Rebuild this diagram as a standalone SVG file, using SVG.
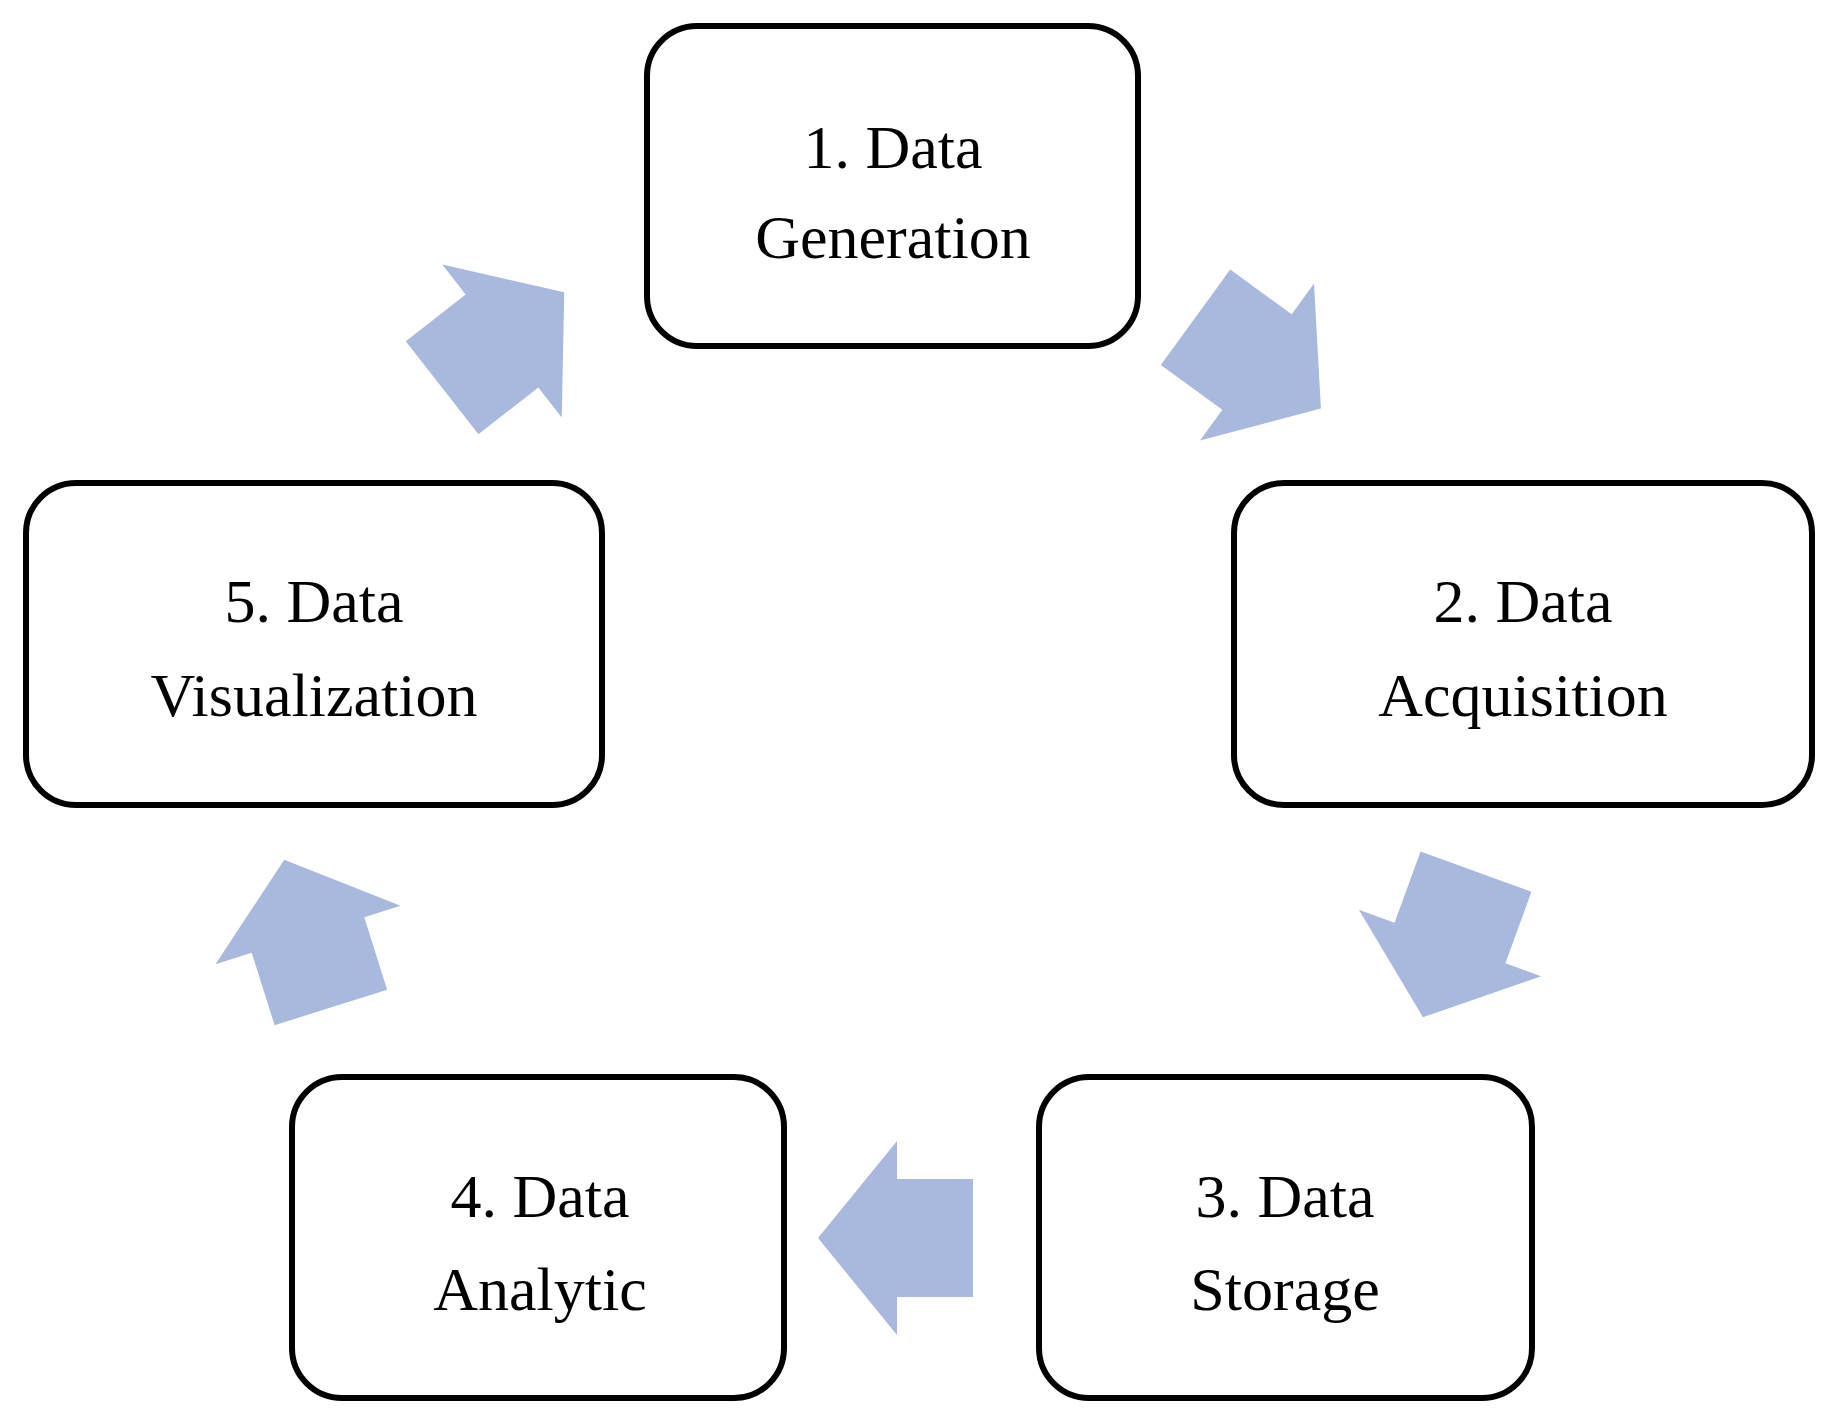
<svg xmlns="http://www.w3.org/2000/svg" width="1840" height="1426" viewBox="0 0 1840 1426">
<defs>
<style>
.box{fill:#fff;stroke:#000;stroke-width:6}
.t{font-family:"Liberation Serif",serif;font-size:62px;fill:#000;text-anchor:middle}
.arr{fill:#a9b9de}
</style>
<polygon id="arrow" points="79,0 0,-97 0,-59 -76,-59 -76,59 0,59 0,97"/>
</defs>
<rect width="1840" height="1426" fill="#fff"/>
<g id="connectors" class="arr">
<use href="#arrow" transform="translate(1257,362) rotate(36)"/>
<use href="#arrow" transform="translate(1450,943) rotate(110)"/>
<use href="#arrow" transform="translate(897,1238) rotate(180)"/>
<use href="#arrow" transform="translate(308,935) rotate(-107.5)"/>
<use href="#arrow" transform="translate(502,341) rotate(-38)"/>
</g>
<g id="n1"><rect class="box" x="647" y="26" width="491" height="320" rx="50"/><text class="t" x="893" y="168">1. Data</text><text class="t" x="893" y="258">Generation</text></g>
<g id="n2"><rect class="box" x="1234" y="483" width="578" height="322" rx="50"/><text class="t" x="1523" y="622">2. Data</text><text class="t" x="1523" y="716">Acquisition</text></g>
<g id="n3"><rect class="box" x="1039" y="1077" width="493" height="321" rx="50"/><text class="t" x="1285" y="1217">3. Data</text><text class="t" x="1285" y="1310">Storage</text></g>
<g id="n4"><rect class="box" x="292" y="1077" width="492" height="321" rx="50"/><text class="t" x="540" y="1217">4. Data</text><text class="t" x="540" y="1310">Analytic</text></g>
<g id="n5"><rect class="box" x="26" y="483" width="576" height="322" rx="50"/><text class="t" x="314" y="622">5. Data</text><text class="t" x="314" y="716">Visualization</text></g>
</svg>
